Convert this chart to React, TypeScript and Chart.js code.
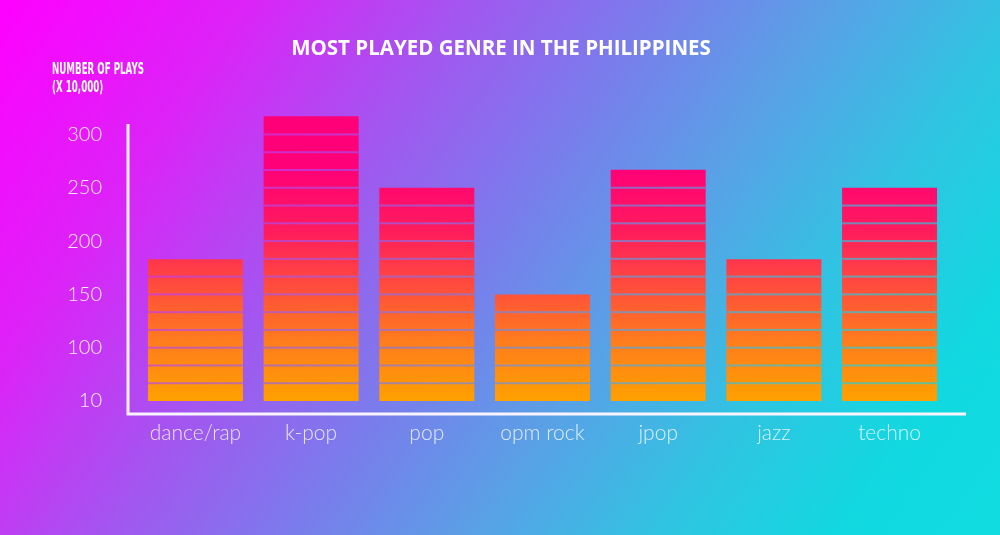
import React, { useRef, useEffect } from 'react';
import { Chart, registerables } from 'chart.js';

Chart.register(...registerables);

const genres = ['dance/rap', 'k-pop', 'pop', 'opm rock', 'jpop', 'jazz', 'techno'];
const plays = [183, 317, 250, 150, 267, 183, 250];
const yTickValues = [50, 100, 150, 200, 250, 300];
const yTickLabels = ['10', '100', '150', '200', '250', '300'];

const BAR_BASE = 50;
const SEGMENT = 50 / 3; // each block in a bar

const chartTitle = 'MOST PLAYED GENRE IN THE PHILIPPINES';
const axisCaption = ['NUMBER OF PLAYS', '(X 10,000)'];

// title, caption, axis lines and the gaps between blocks
const decorPlugin = {
    id: 'decor',
    afterDatasetsDraw(chart: any) {
        const { ctx } = chart;
        const ys = chart.scales.y;
        const meta = chart.getDatasetMeta(0);
        ctx.save();
        ctx.globalCompositeOperation = 'destination-out';
        ctx.fillStyle = 'rgba(0,0,0,0.66)';
        meta.data.forEach((bar: any, i: number) => {
            const left = bar.x - bar.width / 2;
            for (let v = BAR_BASE + SEGMENT; v < plays[i] - 1; v += SEGMENT) {
                const py = ys.getPixelForValue(v);
                ctx.fillRect(left, py - 1, bar.width, 2);
            }
        });
        ctx.restore();
    },
    afterDraw(chart: any) {
        const { ctx, chartArea } = chart;
        ctx.save();
        // axis lines
        ctx.strokeStyle = '#faf4ff';
        ctx.lineWidth = 3;
        ctx.beginPath();
        ctx.moveTo(128, 124);
        ctx.lineTo(128, chartArea.bottom);
        ctx.lineTo(966, chartArea.bottom);
        ctx.stroke();

        ctx.fillStyle = '#ffffff';
        ctx.textAlign = 'center';
        ctx.textBaseline = 'middle';
        ctx.font = '700 20.5px "Open Sans"';
        ctx.fillText(chartTitle, 501, 49);

        // condensed caption, squeezed to the reference width
        ctx.textAlign = 'left';
        ctx.font = '700 15.5px "DejaVu Sans Condensed", sans-serif';
        const w0 = ctx.measureText(axisCaption[0]).width;
        const sx = 92 / w0;
        ctx.translate(52, 0);
        ctx.scale(sx, 1);
        ctx.fillText(axisCaption[0], 0, 70);
        ctx.fillText(axisCaption[1], 0, 88);
        ctx.restore();
    },
};

const App: React.FC = () => {
    const canvasRef = useRef<HTMLCanvasElement>(null);

    useEffect(() => {
        if (!canvasRef.current) return;
        const chart = new Chart(canvasRef.current, {
            type: 'bar',
            data: {
                labels: genres,
                datasets: [{
                    data: plays,
                    base: BAR_BASE,
                    backgroundColor: (c: any) => {
                        const ch = c.chart;
                        const ys = ch.scales.y;
                        if (!ch.chartArea || !ys) return '#ff5038';
                        const g = ch.ctx.createLinearGradient(0, ys.getPixelForValue(50), 0, ys.getPixelForValue(270));
                        g.addColorStop(0, '#ffa000');
                        g.addColorStop(0.25, '#ff7d1c');
                        g.addColorStop(0.5, '#ff4a3e');
                        g.addColorStop(0.72, '#ff1c5c');
                        g.addColorStop(1, '#ff0078');
                        return g;
                    },
                    borderWidth: 0,
                    categoryPercentage: 1,
                    barPercentage: 0.821,
                }],
            },
            options: {
                responsive: false,
                animation: false,
                layout: { padding: { top: 90, right: 52.6, bottom: 81, left: 0 } },
                plugins: {
                    legend: { display: false },
                    tooltip: { enabled: false },
                },
                scales: {
                    x: {
                        grid: { display: false, drawTicks: false },
                        border: { display: false },
                        ticks: {
                            padding: 7,
                            color: 'rgba(240,244,255,0.9)',
                            font: { family: 'Lato', weight: '300', size: 21 },
                        },
                        afterFit: (s: any) => { s.height = 40; },
                    },
                    y: {
                        min: 37.8,
                        max: 341.7,
                        grid: { display: false, drawTicks: false },
                        border: { display: false },
                        afterBuildTicks: (s: any) => { s.ticks = yTickValues.map((v) => ({ value: v })); },
                        ticks: {
                            padding: 35.6,
                            color: '#f6eeff',
                            font: { family: 'Lato', weight: '300', size: 20 },
                            callback: (v: any) => yTickLabels[yTickValues.indexOf(Number(v))] ?? '',
                        },
                        afterFit: (s: any) => { s.width = 137.6; },
                    },
                },
            },
            plugins: [decorPlugin],
        });
        return () => chart.destroy();
    }, []);

    return (
        <div style={{
            position: 'fixed', left: 0, top: 0, width: 1000, height: 535,
            background: 'linear-gradient(124deg, #ff00ff 0%, #dd22f8 18%, #a455f0 34%, #7a7cec 48%, #5aa0e6 61%, #30c4e2 75%, #12d8e0 88%, #10dde0 100%)',
        }}>
            <canvas ref={canvasRef} width={1000} height={535} />
        </div>
    );
};

export default App;
